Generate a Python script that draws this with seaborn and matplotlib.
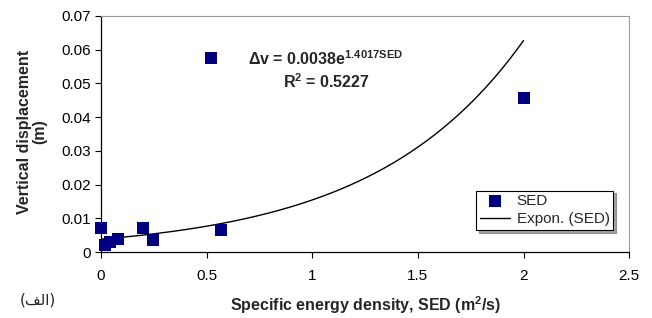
import numpy as np
import pandas as pd
import matplotlib
matplotlib.use("Agg")
import matplotlib.pyplot as plt
import seaborn as sns

# measured points
sed = [0.0, 0.02, 0.04, 0.08, 0.20, 0.245, 0.52, 0.57, 2.0]
disp = [0.0070, 0.0021, 0.0030, 0.0038, 0.0070, 0.0036, 0.0575, 0.0065, 0.0456]

# exponential trendline coefficients
coef_a = 0.0038
coef_b = 1.4017
r2 = 0.5227

xticks = [0, 0.5, 1, 1.5, 2, 2.5]
yticks = [0, 0.01, 0.02, 0.03, 0.04, 0.05, 0.06, 0.07]


def main():
    sns.set_style("ticks")
    plt.rcParams['font.family'] = ['Liberation Sans', 'DejaVu Sans']
    plt.rcParams['mathtext.fontset'] = 'custom'
    plt.rcParams['mathtext.rm'] = 'Liberation Sans'
    plt.rcParams['mathtext.bf'] = 'Liberation Sans:bold'

    df = pd.DataFrame({'SED': sed, 'disp': disp})
    xs = np.linspace(0, max(sed), 200)
    trend = pd.DataFrame({'SED': xs, 'disp': coef_a * np.exp(coef_b * xs)})

    fig = plt.figure(figsize=(6.52, 3.18), dpi=100)
    ax = fig.add_axes([0.155, 0.2075, 0.81, 0.7425])

    sns.lineplot(data=trend, x='SED', y='disp', color='black', linewidth=1.0,
                 ax=ax, label='Expon. (SED)', zorder=2)
    sns.scatterplot(data=df, x='SED', y='disp', marker='s', s=64, color='#000080',
                    edgecolor='#000080', linewidth=0, ax=ax, label='SED', zorder=3,
                    clip_on=False)

    ax.set_xlim(0, 2.5)
    ax.set_ylim(0, 0.07)
    ax.set_xticks(xticks)
    ax.set_xticklabels([f"{t:g}" for t in xticks])
    ax.set_yticks(yticks)
    ax.set_yticklabels([f"{t:g}" for t in yticks])
    ax.tick_params(labelsize=11, length=4, width=0.8, colors='black', pad=3)
    ax.tick_params(axis='x', pad=8)
    for side in ['top', 'right']:
        ax.spines[side].set_linewidth(0.8)
        ax.spines[side].set_color('#9a9a9a')
    for side in ['left', 'bottom']:
        ax.spines[side].set_linewidth(0.9)
        ax.spines[side].set_color('black')

    ax.set_xlabel('Specific energy density, SED (m$^{\\mathbf{2}}$/s)', fontsize=11.5,
                  fontweight='bold')
    ax.xaxis.set_label_coords(0.5, -0.18)
    ax.set_ylabel('Vertical displacement\n(m)', fontsize=11.5, fontweight='bold',
                  linespacing=1.0)
    ax.yaxis.set_label_coords(-0.102, 0.508)

    ax.text(0.695, 0.0555, 'Δv = 0.0038e$^{\\mathbf{1.4017SED}}$',
            fontsize=11.5, fontweight='bold', ha='left', va='baseline')
    ax.text(0.86, 0.0485, f'R$^{{\\mathbf{{2}}}}$ = {r2}', fontsize=11.5,
            fontweight='bold', ha='left', va='baseline')

    handles, labels = ax.get_legend_handles_labels()
    order = [labels.index('SED'), labels.index('Expon. (SED)')]
    leg = ax.legend([handles[i] for i in order], [labels[i] for i in order],
                    loc='lower right', bbox_to_anchor=(0.97, 0.093),
                    fontsize=11, frameon=True, fancybox=False, shadow=True,
                    borderpad=0.25, labelspacing=0.25, handlelength=2.0,
                    handletextpad=0.4, borderaxespad=0)
    leg.get_frame().set_edgecolor('black')
    leg.get_frame().set_linewidth(0.8)

    # Arabic label "(الف)" written in presentation forms so it renders joined
    fig.text(0.031, 0.057, '(\uFED2\uFEDF\uFE8D)', fontsize=11,
             family=['DejaVu Sans'], ha='left', va='center')

    fig.savefig('out.png', dpi=100)
    plt.close(fig)


if __name__ == "__main__":
    main()
